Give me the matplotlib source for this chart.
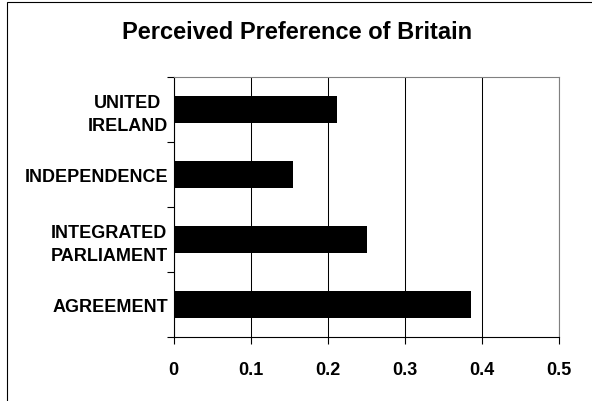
import matplotlib
matplotlib.use("Agg")
import matplotlib.pyplot as plt
from matplotlib.patches import Rectangle
from matplotlib.ticker import FixedLocator, NullFormatter

# --- Data (bottom to top) ---
categories = ["AGREEMENT", "INTEGRATED\nPARLIAMENT", "INDEPENDENCE", "UNITED\nIRELAND"]
preference = [0.386, 0.251, 0.155, 0.212]
x_ticks = [0, 0.1, 0.2, 0.3, 0.4, 0.5]
x_labels = ["0", "0.1", "0.2", "0.3", "0.4", "0.5"]

plt.rcParams['font.family'] = ['Liberation Sans', 'DejaVu Sans']

fig = plt.figure(figsize=(5.92, 4.02), dpi=100)
ax = fig.add_axes([0.2931, 0.1592, 0.6512, 0.6468])

# outer chart border (right/bottom edges fall outside the picture)
fig.patches.append(Rectangle((7 / 592, -0.1), 1.2, 1.1 - 3 / 402, transform=fig.transFigure,
                             fill=False, edgecolor="black", linewidth=0.8, clip_on=False))

pos = list(range(len(categories)))
ax.barh(pos, preference, height=0.42, color="black", zorder=3)

ax.set_xlim(0, 0.5)
ax.set_ylim(-0.5, len(categories) - 0.5)

# x axis
ax.set_xticks(x_ticks)
ax.set_xticklabels(x_labels, fontsize=13, fontweight="bold")
ax.tick_params(axis="x", direction="out", length=5, width=0.8, pad=12)
ax.grid(axis="x", color="black", linewidth=0.75, zorder=0)

# y axis: ticks between categories, labels at centers
ax.yaxis.set_major_locator(FixedLocator([p - 0.5 for p in pos] + [len(pos) - 0.5]))
ax.yaxis.set_major_formatter(NullFormatter())
ax.yaxis.set_minor_locator(FixedLocator(pos))
ax.set_yticklabels(categories, minor=True, fontsize=13, fontweight="bold",
                   multialignment="center", linespacing=1.4)
ax.tick_params(axis="y", which="major", direction="out", length=5, width=0.8)
ax.tick_params(axis="y", which="minor", length=0, pad=4)

for side in ["top", "right"]:
    ax.spines[side].set_color("#808080")
    ax.spines[side].set_linewidth(0.8)
for side in ["left", "bottom"]:
    ax.spines[side].set_linewidth(0.8)

fig.text(0.502, 0.918, "Perceived Preference of Britain", ha="center", va="center",
         fontsize=17, fontweight="bold")

fig.savefig("out.png", dpi=100)
